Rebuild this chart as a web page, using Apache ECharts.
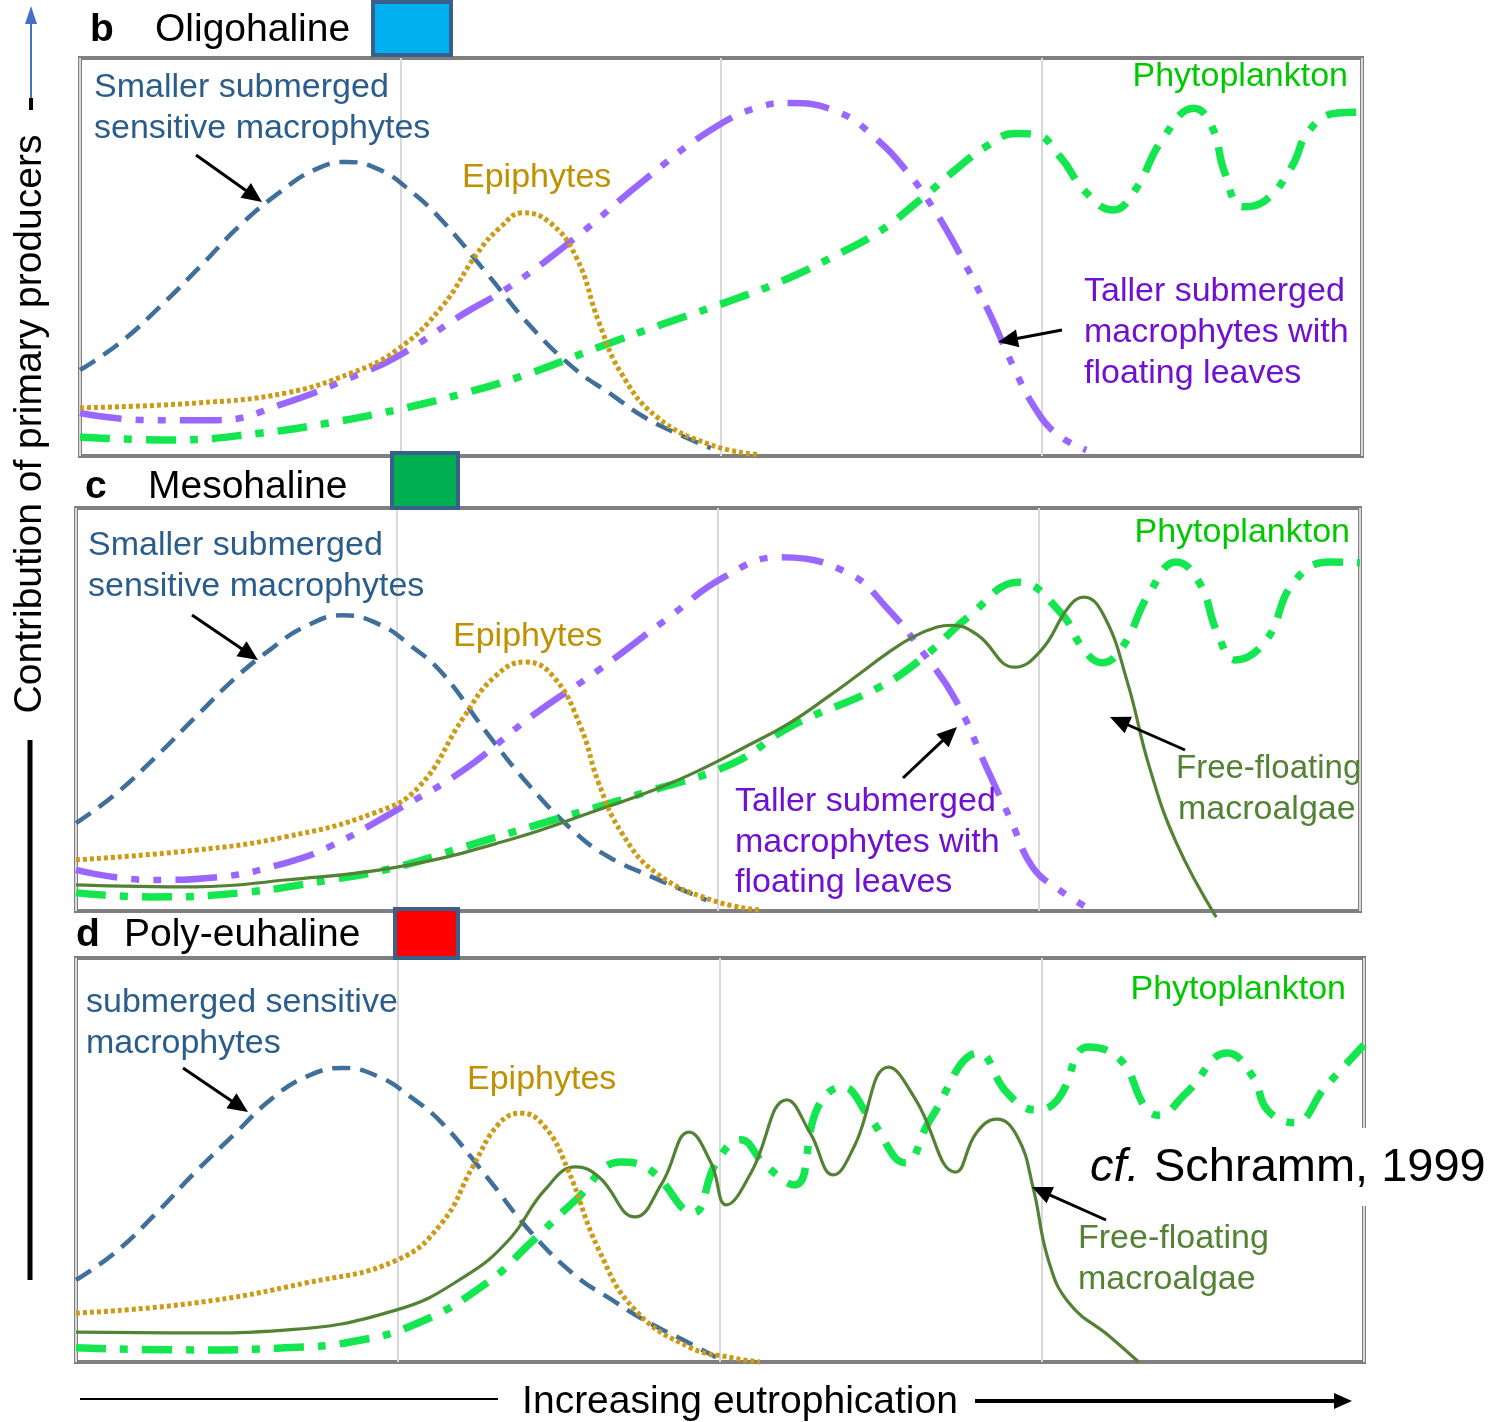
<!DOCTYPE html>
<html>
<head>
<meta charset="utf-8">
<script src="https://cdn.jsdelivr.net/npm/echarts@6/dist/echarts.min.js"></script>
<style>
  html, body { margin: 0; padding: 0; background: #ffffff; }
  #chart { width: 1499px; height: 1422px; }
</style>
</head>
<body>
<div id="chart"></div>
<script>
// Relative contribution of primary producers along a eutrophication gradient,
// one panel per salinity zone. x: eutrophication (0-100), y: contribution (0-100).

const panelLetters = ['b', 'c', 'd'];
const panelNames = ['Oligohaline', 'Mesohaline', 'Poly-euhaline'];
const panelColors = ['#00B0F0', '#00B050', '#FF0000'];

// --- b: Oligohaline ---
const oligoSmaller = [[0,21.6],[3.1,28.4],[6.2,37.4],[9.4,47.7],[12.5,58.0],[15.6,66.3],[18.3,71.9],[20.8,73.9],[23.4,71.9],[25.7,66.8],[28.2,59.3],[31.7,46.0],[35.2,32.4],[38.7,21.6],[41.3,15.8],[44.0,9.8],[46.8,5.3],[49.2,2.0]];
const oligoEpiphytes = [[0,12.1],[9.0,13.3],[16.0,15.8],[21.2,20.9],[24.7,26.6],[28.2,37.4],[31.0,51.0],[32.8,57.5],[34.5,61.1],[36.6,58.8],[38.7,50.0],[40.5,33.4],[42.2,20.9],[45.0,9.8],[49.2,2.8],[53.0,0.3]];
const oligoTaller = [[0,10.8],[5.5,9.0],[10.7,9.0],[16.0,13.3],[21.2,19.8],[24.7,24.9],[30.0,35.9],[33.5,42.5],[38.7,55.0],[44.0,69.3],[49.2,81.9],[53.0,87.7],[55.4,88.7],[59.3,86.2],[62.0,80.0],[64.5,71.5],[66.8,61.0],[69.0,48.5],[71.0,35.5],[72.8,22.5],[74.5,12.0],[76.2,5.5],[78.5,1.5]];
const oligoPhyto = [[0,4.8],[7.2,4.0],[14.2,5.8],[19.4,8.3],[24.7,11.6],[30.0,15.8],[35.2,20.9],[40.5,27.4],[45.7,33.4],[50.9,39.2],[55.0,44.3],[59.0,50.5],[62.4,56.5],[65.8,65.1],[68.5,72.5],[70.8,78.0],[72.9,81.0],[74.5,80.8],[76.5,75.0],[78.4,66.5],[80.6,61.8],[82.3,66.8],[84.4,79.4],[86.9,87.4],[88.3,82.7],[89.3,71.1],[90.7,62.6],[92.5,64.3],[94.5,72.6],[95.9,81.9],[98.1,86.2],[100,86.4]];

// --- c: Mesohaline ---
const mesoSmaller = [[0,21.8],[3.0,28.8],[6.2,38.2],[9.3,48.1],[12.4,57.8],[15.1,64.8],[17.8,70.5],[20.8,73.4],[23.7,71.0],[26.0,66.0],[28.5,59.1],[32.0,44.2],[35.4,30.8],[38.9,19.4],[41.5,13.4],[44.9,8.4],[49.1,2.7]];
const mesoEpiphytes = [[0,12.7],[9.3,15.1],[16.3,18.4],[23.2,24.3],[26.7,30.8],[30.2,48.1],[32.6,58.1],[35.0,61.8],[37.2,58.1],[39.3,45.7],[40.7,31.8],[42.5,19.4],[45.2,9.4],[49.5,2.7],[53.3,0.2]];
const mesoTaller = [[0,10.2],[5.8,7.7],[11.0,8.4],[16.3,11.9],[19.7,15.9],[25.0,25.1],[30.2,35.0],[35.4,48.1],[40.7,59.8],[45.9,72.2],[50.5,82.9],[54.8,87.8],[60.1,83.9],[63.3,74.7],[66.0,64.0],[68.5,52.4],[70.9,35.7],[72.8,22.6],[74.5,10.9],[76.6,5.2],[79.1,0.2]];
const mesoPhyto = [[0,4.5],[5.8,3.5],[12.8,4.5],[19.7,7.7],[25.0,10.9],[30.2,15.9],[37.2,22.6],[44.2,29.3],[51.2,36.7],[55.6,45.7],[62.6,55.6],[66.0,63.0],[69.5,73.0],[73.4,81.6],[76.7,74.0],[78.5,64.8],[79.9,61.6],[81.5,65.5],[83.6,78.9],[85.7,86.6],[87.5,81.4],[88.9,69.0],[90.3,62.3],[92.7,67.2],[94.8,81.4],[97.6,86.6],[100,86.4]];
const mesoAlgae = [[0,6.5],[9.3,6.0],[16.3,7.7],[25.0,10.9],[33.7,17.6],[40.7,25.1],[45.0,30.0],[48.6,35.0],[52.0,40.5],[55.6,46.7],[58.5,53.0],[61.0,58.8],[63.2,64.0],[65.2,68.0],[67.0,70.4],[68.2,70.9],[70.2,68.5],[73.1,60.5],[75.2,64.8],[77.3,75.4],[78.5,77.9],[80.1,73.0],[81.9,56.6],[83.6,35.7],[85.7,16.9],[88.8,-1.5]];

// --- d: Poly-euhaline ---
const polySmaller = [[0,20.3],[3.0,27.0],[6.1,36.4],[9.2,46.8],[12.4,56.7],[15.1,64.9],[17.8,70.5],[20.7,72.8],[23.6,70.5],[25.9,65.8],[28.4,59.2],[31.9,45.8],[35.3,32.2],[38.8,21.3],[41.5,15.6],[44.1,10.4],[47.6,4.7],[49.7,1.2]];
const polyEpiphytes = [[0,12.1],[9.2,14.6],[17.9,19.6],[24.9,25.2],[28.4,34.4],[30.8,48.3],[32.9,59.2],[34.6,61.6],[36.4,58.2],[38.1,48.3],[40.6,27.7],[43.4,12.9],[47.6,3.7],[51.0,1.0],[53.1,0]];
const polyPhyto = [[0,3.5],[9.2,3.0],[16.2,3.5],[21.4,5.0],[26.6,9.7],[31.9,19.6],[35.3,29.5],[38.8,40.1],[42.3,49.5],[44.6,47.5],[47.9,36.9],[49.7,49.3],[51.6,55.0],[53.5,48.8],[55.8,43.8],[57.6,63.1],[59.5,68.1],[61.6,60.6],[64.4,49.3],[66.3,59.9],[70.1,76.5],[72.3,66.6],[74.5,62.4],[76.2,64.9],[78.6,78.0],[81.1,74.8],[83.0,63.1],[84.0,61.1],[86.2,66.6],[89.4,76.5],[91.4,70.5],[92.5,62.4],[94.6,59.2],[97.0,68.1],[100,78.5]];
const polyAlgae = [[0,7.4],[9.2,7.2],[16.2,7.9],[24.9,12.9],[30.1,21.0],[33.6,30.2],[36.4,42.6],[38.8,48.3],[40.6,45.8],[43.4,35.9],[45.5,44.3],[47.6,56.9],[49.3,49.3],[50.5,38.9],[52.4,46.8],[55.2,64.9],[57.0,56.7],[58.8,46.3],[60.4,53.2],[63.1,73.0],[65.2,64.9],[68.3,47.0],[69.9,56.7],[71.5,60.1],[73.1,55.7],[74.3,43.3],[75.5,25.2],[77.1,14.6],[80.3,6.2],[82.5,0]];

const FONT = '"Liberation Sans", Arial, Helvetica, sans-serif';

const styles = {
  smaller:   { color: '#3F6F9A', width: 4.5, type: [18, 10] },
  epiphytes: { color: '#CC9A14', width: 5, type: [4, 3] },
  taller:    { color: '#9966FF', width: 6.5, type: [42, 14, 8, 14, 8, 14] },
  phyto:     { color: '#14E650', width: 7.5, type: [30, 14, 8, 14] },
  algae:     { color: '#548235', width: 3.2, type: 'solid' }
};

const grids = [
  { left: 80, top: 58, width: 1282, height: 398 },
  { left: 76, top: 508, width: 1284, height: 403 },
  { left: 76, top: 958, width: 1288, height: 404 }
];

function curve(name, data, gi, st) {
  return {
    type: 'line', name: name, data: data,
    xAxisIndex: gi, yAxisIndex: gi,
    smooth: 0.45, showSymbol: false, clip: false, silent: true,
    lineStyle: { color: st.color, width: st.width, type: st.type, cap: 'butt' },
    z: 5
  };
}

const series = [
  curve('Smaller submerged sensitive macrophytes', oligoSmaller, 0, styles.smaller),
  curve('Taller submerged macrophytes with floating leaves', oligoTaller, 0, styles.taller),
  curve('Phytoplankton', oligoPhyto, 0, styles.phyto),
  curve('Epiphytes', oligoEpiphytes, 0, styles.epiphytes),

  curve('Smaller submerged sensitive macrophytes', mesoSmaller, 1, styles.smaller),
  curve('Taller submerged macrophytes with floating leaves', mesoTaller, 1, styles.taller),
  curve('Phytoplankton', mesoPhyto, 1, styles.phyto),
  curve('Free-floating macroalgae', mesoAlgae, 1, styles.algae),
  curve('Epiphytes', mesoEpiphytes, 1, styles.epiphytes),

  curve('Submerged sensitive macrophytes', polySmaller, 2, styles.smaller),
  curve('Phytoplankton', polyPhyto, 2, styles.phyto),
  curve('Free-floating macroalgae', polyAlgae, 2, styles.algae),
  curve('Epiphytes', polyEpiphytes, 2, styles.epiphytes)
];

const xAxes = grids.map((g, i) => ({
  type: 'value', gridIndex: i, min: 0, max: 100, interval: 25,
  axisLine: { show: false }, axisTick: { show: false }, axisLabel: { show: false },
  splitLine: { show: true, lineStyle: { color: '#d9d9d9', width: 2 } }
}));
const yAxes = grids.map((g, i) => ({
  type: 'value', gridIndex: i, min: 0, max: 100, show: false
}));

// ---- annotation helpers ----
function label(text, x, y, color, size, align, extra) {
  return Object.assign({
    type: 'text', x: x, y: y, z: 100, silent: true,
    style: {
      text: text, fill: color, font: size + 'px ' + FONT,
      textAlign: align || 'left', align: align || 'left',
      textVerticalAlign: 'middle', verticalAlign: 'middle'
    }
  }, extra || {});
}

function arrow(x1, y1, x2, y2, color, w, headLen, headHalf) {
  const dx = x2 - x1, dy = y2 - y1;
  const len = Math.sqrt(dx * dx + dy * dy);
  const ux = dx / len, uy = dy / len;
  const bx = x2 - ux * headLen, by = y2 - uy * headLen;
  return [
    { type: 'line', z: 100, silent: true,
      shape: { x1: x1, y1: y1, x2: bx + ux * 2, y2: by + uy * 2 },
      style: { stroke: color, lineWidth: w } },
    { type: 'polygon', z: 100, silent: true,
      shape: { points: [[x2, y2], [bx - uy * headHalf, by + ux * headHalf], [bx + uy * headHalf, by - ux * headHalf]] },
      style: { fill: color } }
  ];
}

const C_BLUE = '#2B5D8C', C_GOLD = '#BF9000', C_GREEN = '#00C800', C_PURPLE = '#7010D0', C_ALGAE = '#548235';
const LS = 34;

const graphics = [];

// panel headers with colour swatches
const headers = [
  { letterX: 90, nameX: 155, y: 30, box: [373, 2, 78, 53] },
  { letterX: 85, nameX: 148, y: 487, box: [392, 453, 66, 55] },
  { letterX: 76, nameX: 124, y: 935, box: [395, 909, 63, 49] }
];
headers.forEach((h, i) => {
  graphics.push({ type: 'text', x: h.letterX, y: h.y, z: 100,
    style: { text: panelLetters[i], fill: '#000', font: 'bold 39px ' + FONT, textVerticalAlign: 'middle', verticalAlign: 'middle' } });
  graphics.push(label(panelNames[i], h.nameX, h.y, '#000', 39));
  graphics.push({ type: 'rect', z: 110, silent: true,
    shape: { x: h.box[0], y: h.box[1], width: h.box[2], height: h.box[3] },
    style: { fill: panelColors[i], stroke: '#3A5F8B', lineWidth: 4 } });
});

// panel b labels
graphics.push(label('Smaller submerged', 94, 88, C_BLUE, LS));
graphics.push(label('sensitive macrophytes', 94, 129, C_BLUE, LS));
graphics.push(label('Epiphytes', 462, 178, C_GOLD, LS));
graphics.push(label('Phytoplankton', 1348, 77, C_GREEN, LS, 'right'));
graphics.push(label('Taller submerged', 1084, 292, C_PURPLE, LS));
graphics.push(label('macrophytes with', 1084, 333, C_PURPLE, LS));
graphics.push(label('floating leaves', 1084, 374, C_PURPLE, LS));
graphics.push(...arrow(196, 155, 262, 202, '#000', 3, 20, 9));
graphics.push(...arrow(1062, 330, 998, 342, '#000', 3, 20, 9));

// panel c labels
graphics.push(label('Smaller submerged', 88, 546, C_BLUE, LS));
graphics.push(label('sensitive macrophytes', 88, 587, C_BLUE, LS));
graphics.push(label('Epiphytes', 453, 637, C_GOLD, LS));
graphics.push(label('Phytoplankton', 1350, 533, C_GREEN, LS, 'right'));
graphics.push(label('Taller submerged', 735, 802, C_PURPLE, LS));
graphics.push(label('macrophytes with', 735, 843, C_PURPLE, LS));
graphics.push(label('floating leaves', 735, 883, C_PURPLE, LS));
graphics.push(label('Free-floating', 1176, 769, C_ALGAE, 33));
graphics.push(label('macroalgae', 1178, 810, C_ALGAE, LS));
graphics.push(...arrow(192, 615, 258, 660, '#000', 3, 20, 9));
graphics.push(...arrow(903, 778, 957, 727, '#000', 3, 20, 9));
graphics.push(...arrow(1185, 750, 1110, 717, '#000', 3, 20, 9));

// panel d labels
graphics.push(label('submerged sensitive', 86, 1003, C_BLUE, LS));
graphics.push(label('macrophytes', 86, 1044, C_BLUE, LS));
graphics.push(label('Epiphytes', 467, 1080, C_GOLD, LS));
graphics.push(label('Phytoplankton', 1346, 990, C_GREEN, LS, 'right'));
graphics.push(label('Free-floating', 1078, 1239, C_ALGAE, LS));
graphics.push(label('macroalgae', 1078, 1280, C_ALGAE, LS));
graphics.push(...arrow(183, 1068, 248, 1112, '#000', 3, 20, 9));
graphics.push(...arrow(1106, 1220, 1032, 1187, '#000', 3, 20, 9));

// citation on a white patch over the panel edge
graphics.push({ type: 'rect', z: 120, silent: true,
  shape: { x: 1080, y: 1128, width: 419, height: 78 }, style: { fill: '#ffffff' } });
graphics.push({ type: 'text', x: 1090, y: 1168, z: 121,
  style: { text: 'cf.', fill: '#000', font: 'italic 47px ' + FONT, textVerticalAlign: 'middle', verticalAlign: 'middle' } });
graphics.push({ type: 'text', x: 1154, y: 1168, z: 121,
  style: { text: 'Schramm, 1999', fill: '#000', font: '47px ' + FONT, textVerticalAlign: 'middle', verticalAlign: 'middle' } });

// vertical axis: arrow, rotated title, line below
graphics.push({ type: 'line', z: 100, shape: { x1: 31, y1: 22, x2: 31, y2: 98 }, style: { stroke: '#4472C4', lineWidth: 2 } });
graphics.push({ type: 'polygon', z: 100, shape: { points: [[31, 6], [25, 24], [37, 24]] }, style: { fill: '#4472C4' } });
graphics.push({ type: 'line', z: 100, shape: { x1: 31, y1: 98, x2: 31, y2: 110 }, style: { stroke: '#000', lineWidth: 4 } });
graphics.push({ type: 'text', x: 30, y: 424, z: 100, rotation: Math.PI / 2,
  style: { text: 'Contribution of primary producers', fill: '#000', font: '39px ' + FONT,
    textAlign: 'center', align: 'center', textVerticalAlign: 'middle', verticalAlign: 'middle' } });
graphics.push({ type: 'line', z: 100, shape: { x1: 30, y1: 740, x2: 30, y2: 1280 }, style: { stroke: '#000', lineWidth: 5 } });

// horizontal axis: title between two lines, arrowhead on the right
graphics.push({ type: 'line', z: 100, shape: { x1: 80, y1: 1399, x2: 498, y2: 1399 }, style: { stroke: '#000', lineWidth: 2 } });
graphics.push(label('Increasing eutrophication', 740, 1402, '#000', 39, 'center'));
graphics.push({ type: 'line', z: 100, shape: { x1: 975, y1: 1401, x2: 1336, y2: 1401 }, style: { stroke: '#000', lineWidth: 4 } });
graphics.push({ type: 'polygon', z: 100, shape: { points: [[1352, 1401], [1334, 1393], [1334, 1409]] }, style: { fill: '#000' } });

const option = {
  animation: false,
  backgroundColor: '#ffffff',
  grid: grids.map(g => Object.assign({ show: true, borderColor: '#7f7f7f', borderWidth: 4, backgroundColor: 'transparent' }, g)),
  xAxis: xAxes,
  yAxis: yAxes,
  series: series,
  graphic: { elements: graphics }
};

const chart = echarts.init(document.getElementById('chart'), null, { renderer: 'canvas' });
chart.setOption(option);
</script>
</body>
</html>
